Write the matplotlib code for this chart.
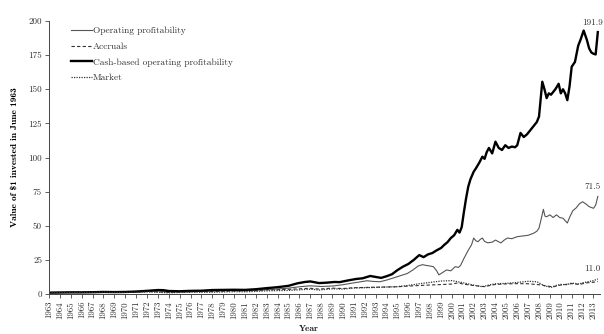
import matplotlib
matplotlib.use("Agg")
import matplotlib.pyplot as plt

plt.rcParams['font.family'] = ['cmr10', 'DejaVu Serif']
plt.rcParams['axes.formatter.use_mathtext'] = True
plt.rcParams['mathtext.fontset'] = 'cm'

# Cash-based operating profitability
cash_t = [1963.0, 1964, 1965, 1966, 1967, 1968, 1969, 1970, 1971, 1972, 1973, 1973.5, 1974, 1975,
          1976, 1977, 1978, 1979, 1980, 1981, 1982, 1983, 1984, 1985, 1985.8, 1986.5, 1987.0,
          1987.8, 1988.5, 1989.2, 1989.7, 1990.5, 1991.2, 1991.8, 1992.5, 1993.0, 1993.5, 1994.0,
          1994.5, 1995.0, 1995.5, 1996.0, 1996.5, 1997.0, 1997.4, 1997.8, 1998.2, 1998.6, 1999.0,
          1999.3, 1999.6, 1999.9, 2000.2, 2000.5, 2000.7, 2000.9, 2001.1, 2001.3, 2001.5, 2001.7,
          2002.0, 2002.2, 2002.5, 2002.8, 2003.0, 2003.2, 2003.4, 2003.7, 2004.0, 2004.3, 2004.6,
          2004.9, 2005.2, 2005.5, 2005.8, 2006.0, 2006.3, 2006.6, 2006.9, 2007.2, 2007.5, 2007.8,
          2008.0, 2008.3, 2008.5, 2008.7, 2008.9, 2009.1, 2009.3, 2009.5, 2009.8, 2010.0, 2010.2,
          2010.4, 2010.6, 2010.8, 2011.0, 2011.3, 2011.6, 2011.8, 2012.1, 2012.4, 2012.6, 2012.8,
          2013.0, 2013.2, 2013.4]
cash_v = [1.0, 1.1, 1.2, 1.2, 1.3, 1.5, 1.4, 1.5, 1.8, 2.3, 2.9, 2.8, 2.2, 2.0,
          2.3, 2.4, 2.9, 3.0, 3.1, 3.0, 3.5, 4.3, 5.0, 6.0, 7.8, 8.8, 9.2,
          8.0, 8.3, 8.8, 8.7, 10.0, 11.0, 11.5, 13.2, 12.5, 11.8, 13.0,
          14.5, 17.5, 20.0, 22.0, 25.0, 28.5, 27.0, 29.0, 30.0, 32.0, 33.7,
          36.0, 38.0, 41.0, 43.0, 47.0, 45.0, 49.0, 60.0, 70.0, 78.6, 84.0,
          89.6, 92.0, 96.0, 100.6, 99.0, 104.0, 107.0, 103.0, 111.6, 107.0, 105.5,
          109.0, 107.0, 108.0, 107.5, 109.0, 118.0, 115.0, 117.0, 120.0, 123.0, 126.0,
          130.0, 155.5, 150.0, 143.5, 147.0, 146.0, 148.0, 150.0, 154.0, 147.0, 150.0,
          147.0, 142.0, 152.0, 166.5, 170.0, 182.0, 186.0, 193.0, 186.0, 180.0, 177.0,
          176.0, 175.5, 191.9]

# Operating profitability
op_t = [1963, 1964, 1965, 1966, 1967, 1968, 1969, 1970, 1971, 1972, 1973, 1974, 1975, 1976,
        1977, 1978, 1979, 1980, 1981, 1982, 1983, 1984, 1985, 1986.1, 1987, 1988, 1989.1, 1990,
        1990.7, 1991.5, 1992.2, 1992.8, 1993.4, 1994.0, 1994.6, 1995.3, 1995.9, 1996.4, 1996.9,
        1997.3, 1997.6, 1998.0, 1998.3, 1998.6, 1998.8, 1999.1, 1999.5, 1999.9, 2000.3, 2000.6,
        2000.8, 2001.1, 2001.5, 2001.8, 2002.0, 2002.2, 2002.4, 2002.6, 2002.8, 2003.0, 2003.3,
        2003.7, 2004.0, 2004.5, 2004.8, 2005.1, 2005.5, 2006.0, 2006.5, 2007.0, 2007.5, 2007.8,
        2008.0, 2008.2, 2008.4, 2008.55, 2008.7, 2009.0, 2009.3, 2009.6, 2009.9, 2010.2, 2010.6,
        2010.8, 2011.1, 2011.4, 2011.7, 2012.0, 2012.3, 2012.6, 2013.0, 2013.2, 2013.4]
op_v = [1.0, 1.1, 1.2, 1.2, 1.3, 1.4, 1.3, 1.4, 1.6, 1.9, 2.2, 1.7, 1.7, 1.9,
        2.0, 2.3, 2.4, 2.5, 2.4, 2.8, 3.3, 3.7, 4.3, 5.4, 6.0, 5.5, 5.9, 6.8,
        7.8, 8.8, 9.7, 9.2, 9.0, 10.2, 11.7, 13.5, 15.0, 17.5, 20.5,
        21.5, 21.0, 20.5, 20.0, 17.0, 14.0, 15.5, 17.6, 17.0, 20.0, 19.5,
        21.0, 26.0, 32.0, 36.0, 41.0, 39.0, 38.3, 40.0, 41.0, 38.5, 37.5,
        38.0, 39.5, 37.4, 39.5, 41.0, 40.5, 42.0, 42.5, 43.0, 44.5, 46.0,
        48.3, 55.0, 62.0, 57.0, 56.6, 58.0, 56.0, 58.0, 56.0, 55.5, 52.0,
        56.0, 61.0, 63.0, 66.0, 67.6, 66.0, 64.0, 62.8, 65.0, 71.5]

# Accruals
acc_t = [1963, 1965, 1968, 1970, 1972, 1973, 1974, 1976, 1978, 1980, 1982, 1983, 1985, 1987,
         1987.8, 1989, 1990, 1991, 1993, 1995, 1996, 1997, 1998, 1999, 2000, 2000.6, 2001, 2002,
         2003, 2003.6, 2004, 2005, 2006, 2007, 2008, 2008.8, 2009.3, 2010, 2011, 2011.7, 2012.4,
         2013, 2013.4]
acc_v = [1.0, 1.2, 1.5, 1.4, 1.8, 1.6, 1.2, 1.6, 1.8, 2.2, 2.5, 3.0, 3.4, 4.2,
         3.6, 4.3, 4.0, 4.6, 5.0, 5.3, 5.8, 6.2, 6.6, 6.9, 7.3, 8.2, 7.3, 6.2,
         5.4, 6.4, 7.0, 7.4, 7.6, 7.5, 6.8, 5.8, 5.2, 6.6, 7.6, 7.0, 8.2,
         8.6, 9.2]

# Market
mkt_t = [1963, 1965, 1968, 1970, 1972, 1973, 1974, 1976, 1978, 1980, 1981, 1982, 1983, 1985,
         1987, 1987.8, 1989, 1990, 1991, 1993, 1995, 1996, 1997, 1998, 1999, 2000, 2001, 2002,
         2002.8, 2003.5, 2004, 2005, 2006, 2007, 2007.8, 2008.5, 2009.1, 2009.5, 2010, 2010.5,
         2011, 2011.7, 2012, 2012.5, 2013, 2013.4]
mkt_v = [1.0, 1.1, 1.3, 1.2, 1.5, 1.3, 0.9, 1.3, 1.3, 1.7, 1.6, 1.9, 2.3, 2.6,
         3.5, 2.9, 3.8, 3.6, 4.4, 4.8, 5.4, 6.3, 7.5, 8.5, 9.5, 9.8, 8.3, 6.5,
         5.3, 6.8, 7.5, 7.8, 8.5, 9.3, 9.0, 6.0, 4.8, 6.2, 7.0, 6.8,
         8.0, 7.3, 8.2, 9.0, 9.8, 11.0]

years = list(range(1963, 2014))
yticks = [0, 25, 50, 75, 100, 125, 150, 175, 200]
end_labels = ["191.9", "71.5", "11.0"]
end_values = [191.9, 71.5, 11.0]

fig = plt.figure(figsize=(6.04, 3.34), dpi=100)
ax = fig.add_axes([49/604, 40/334, 551/604, 273/334])

ax.plot(op_t, op_v, color='#555555', lw=0.8, label='Operating profitability')
ax.plot(acc_t, acc_v, color='#333333', lw=0.8, ls=(0, (3, 2)), label='Accruals')
ax.plot(cash_t, cash_v, color='black', lw=1.7, label='Cash-based operating profitability')
ax.plot(mkt_t, mkt_v, color='#333333', lw=0.9, ls=(0, (1, 1)), label='Market')

ax.set_xlim(1963, 2013.6)
ax.set_ylim(0, 200)
ax.set_xticks(years)
ax.set_xticklabels([str(y) for y in years], rotation=90, fontsize=6.4)
ax.set_yticks(yticks)
ax.set_yticklabels([str(v) for v in yticks], fontsize=6.5)
ax.tick_params(axis='both', direction='out', length=3, width=0.6, colors='#444444', labelcolor='#333333', pad=2)
for s in ['top', 'right']:
    ax.spines[s].set_visible(False)
for s in ['left', 'bottom']:
    ax.spines[s].set_linewidth(0.7)
    ax.spines[s].set_color('#444444')

for lab, val in zip(end_labels, end_values):
    ax.annotate(lab, xy=(2013.4, val), xytext=(-4, 4), textcoords='offset points',
                ha='center', va='bottom', fontsize=6.5, color='#333333')

ax.set_ylabel('Value of \\$1 invested in June 1963', fontsize=6.8, family='cmb10', labelpad=6)
fig.text(309/604, 1/334, 'Year', fontsize=6.8, family='cmb10', ha='center', va='bottom', color='#222222')

leg = ax.legend(loc='upper left', bbox_to_anchor=(0.03, 1.0), frameon=False, fontsize=6.8,
                handlelength=2.2, handletextpad=0.1, labelspacing=0.75, borderaxespad=0.2)
for t in leg.get_texts():
    t.set_color('#333333')

fig.savefig('out.png', dpi=100)
